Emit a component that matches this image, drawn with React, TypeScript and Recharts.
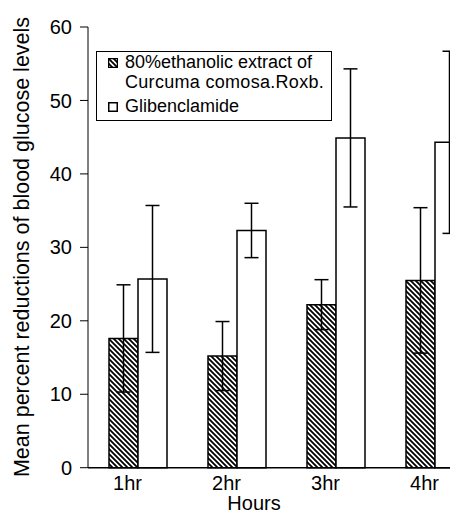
import { Bar, BarChart, ErrorBar, Legend, XAxis, YAxis } from "recharts";

const FONT = "'Liberation Sans', Arial, sans-serif";

const hours = ["1hr", "2hr", "3hr", "4hr"];
const extractMean = [17.6, 15.2, 22.2, 25.5];
const extractErr = [7.3, 4.7, 3.4, 9.9];
const gliMean = [25.7, 32.3, 44.9, 44.3];
const gliErr = [10.0, 3.7, 9.4, 12.4];
const yTicks = [0, 10, 20, 30, 40, 50, 60];

const data = hours.map((h, i) => ({
  hour: h,
  extract: extractMean[i],
  extractErr: extractErr[i],
  gli: gliMean[i],
  gliErr: gliErr[i],
}));

function HatchIcon() {
  return (
    <svg width={10} height={10} style={{ display: "block" }}>
      <rect x={0.5} y={0.5} width={9} height={9} fill="url(#hatch)" stroke="#000" strokeWidth={1.5} />
    </svg>
  );
}

function WhiteIcon() {
  return (
    <svg width={10} height={10} style={{ display: "block" }}>
      <rect x={0.75} y={0.75} width={8.5} height={8.5} fill="#fff" stroke="#000" strokeWidth={1.5} />
    </svg>
  );
}

function LegendBox() {
  return (
    <div
      style={{
        position: "relative",
        width: 236,
        height: 70,
        boxSizing: "border-box",
        border: "1px solid #000",
        background: "#fff",
        fontFamily: FONT,
        fontSize: 18,
        color: "#000",
        lineHeight: "22px",
      }}
    >
      <div style={{ position: "absolute", left: 11, top: 6 }}>
        <HatchIcon />
      </div>
      <div style={{ position: "absolute", left: 28, top: -1, whiteSpace: "nowrap" }}>
        80%ethanolic extract of
      </div>
      <div style={{ position: "absolute", left: 28, top: 19, whiteSpace: "nowrap", letterSpacing: 0.3 }}>
        Curcuma comosa.Roxb.
      </div>
      <div style={{ position: "absolute", left: 11, top: 50 }}>
        <WhiteIcon />
      </div>
      <div style={{ position: "absolute", left: 28, top: 43, whiteSpace: "nowrap" }}>
        Glibenclamide
      </div>
    </div>
  );
}

export default function App() {
  return (
    <div
      style={{
        position: "fixed",
        left: 0,
        top: 0,
        width: 450,
        height: 515,
        overflow: "hidden",
        background: "#fff",
      }}
    >
      <BarChart
        width={500}
        height={515}
        data={data}
        margin={{ top: 27, right: 16, bottom: 0, left: 0 }}
        barCategoryGap={21}
        barGap={0}
      >
        <defs>
          <pattern id="hatch" patternUnits="userSpaceOnUse" width={5} height={5}>
            <rect width={5} height={5} fill="#fff" />
            <path d="M-1,-1 L6,6 M-1,4 L1,6 M4,-1 L6,1" stroke="#000" strokeWidth={1.8} />
          </pattern>
        </defs>
        <XAxis
          dataKey="hour"
          stroke="#000"
          strokeWidth={1.5}
          tickLine={false}
          tickSize={6}
          tickMargin={2}
          height={47.3}
          tick={{ fill: "#000", fontSize: 20, fontFamily: FONT, dx: -10 }}
        />
        <YAxis
          domain={[0, 60]}
          ticks={yTicks}
          stroke="#000"
          strokeWidth={1}
          tickSize={8}
          tickMargin={8}
          width={88}
          tick={{ fill: "#000", fontSize: 20, fontFamily: FONT }}
        />
        <Legend
          layout="vertical"
          align="center"
          verticalAlign="middle"
          wrapperStyle={{ left: 96, top: 51, width: 236 }}
          content={() => <LegendBox />}
        />
        <Bar dataKey="extract" fill="url(#hatch)" stroke="#000" strokeWidth={1.5} isAnimationActive={false}>
          <ErrorBar dataKey="extractErr" width={7} stroke="#000" strokeWidth={1.5} />
        </Bar>
        <Bar dataKey="gli" fill="#fff" stroke="#000" strokeWidth={1.5} isAnimationActive={false}>
          <ErrorBar dataKey="gliErr" width={7} stroke="#000" strokeWidth={1.5} />
        </Bar>
        <text
          x={22}
          y={247}
          transform="rotate(-90 22 247)"
          textAnchor="middle"
          dominantBaseline="central"
          fontFamily={FONT}
          fontSize={21.5}
          fill="#000"
        >
          Mean percent reductions of blood glucose levels
        </text>
        <text x={254} y={510} textAnchor="middle" fontFamily={FONT} fontSize={20} fill="#000">
          Hours
        </text>
      </BarChart>
    </div>
  );
}
